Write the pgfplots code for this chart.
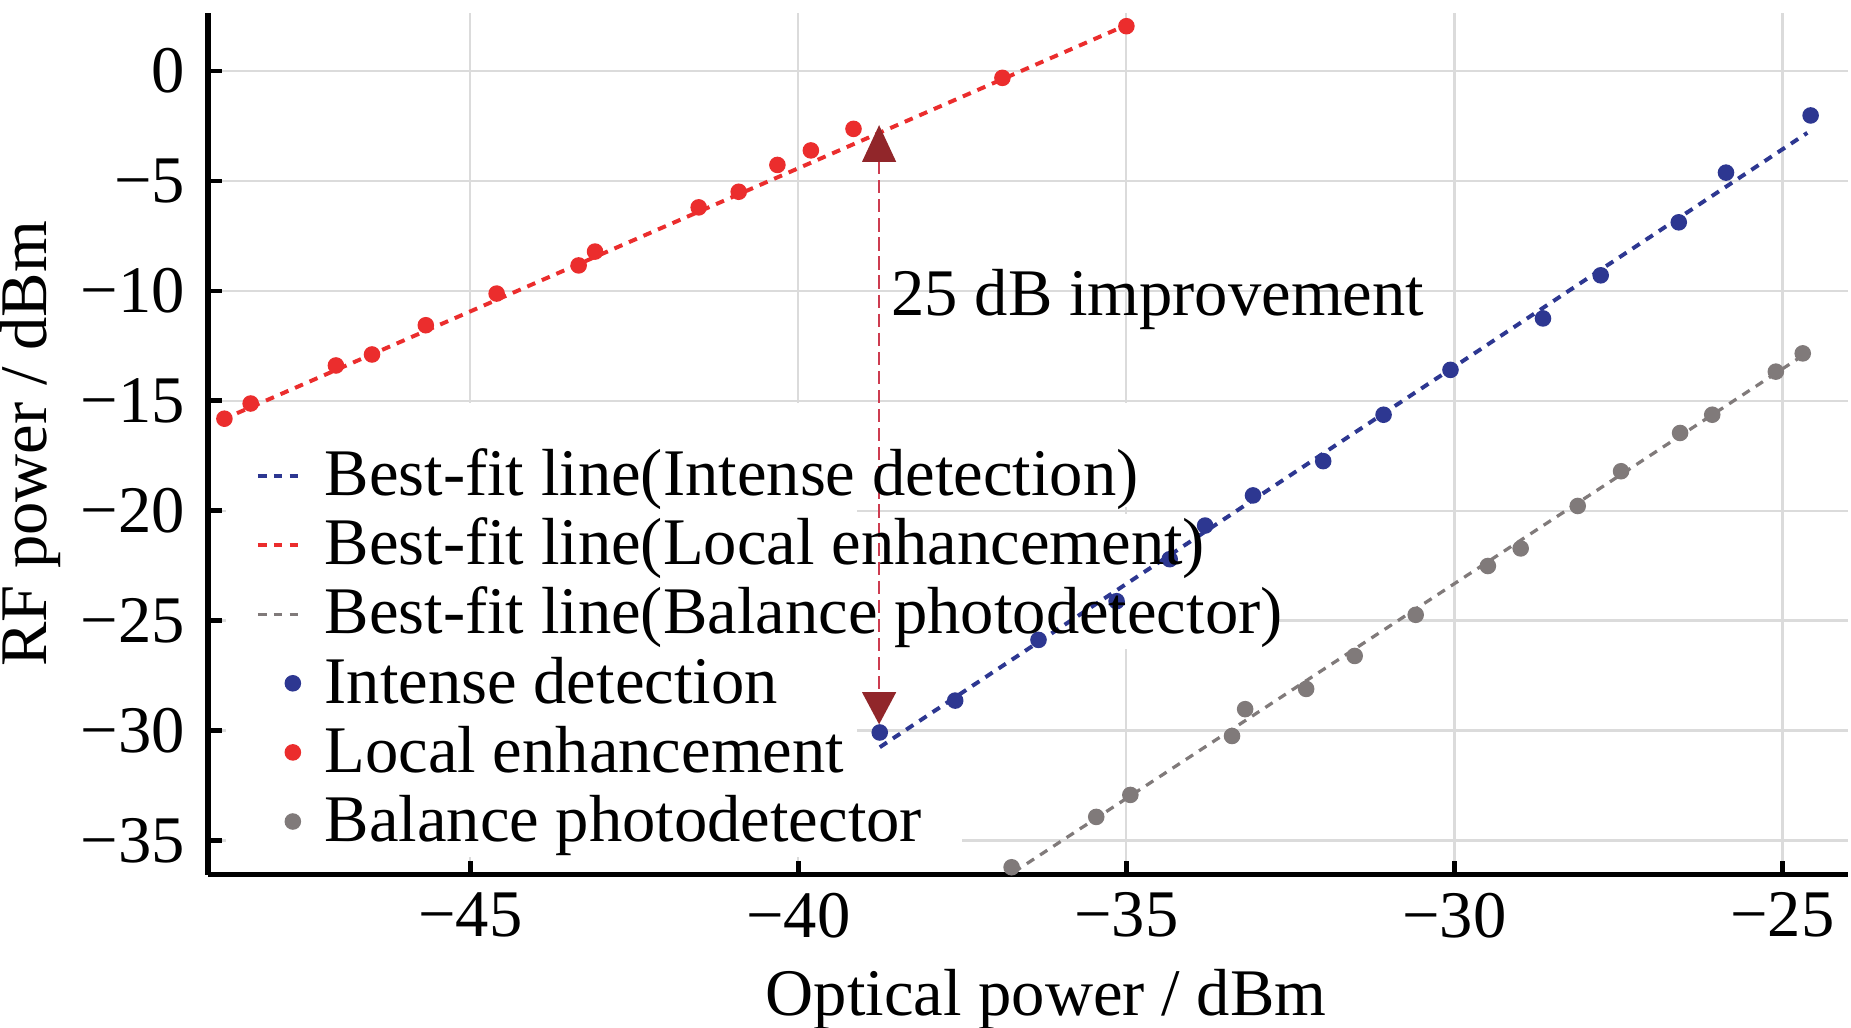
\documentclass[border=0pt]{standalone}
\usepackage{fontspec}
\setmainfont{Liberation Serif}
\usepackage{pgfplots}
\pgfplotsset{compat=1.18}
\definecolor{cred}{RGB}{235,45,45}
\definecolor{cblue}{RGB}{45,55,145}
\definecolor{cgray}{RGB}{128,122,122}
\definecolor{carrow}{RGB}{145,38,42}
\definecolor{cdash}{RGB}{205,60,80}
\pgfplotsset{
 fitleg/.style={legend image code/.code={\draw[##1] (0pt,1.6pt) -- (12pt,1.6pt);}},
 dotleg/.style={legend image code/.code={\path (0pt,0pt) (12pt,0pt); \draw[##1] plot coordinates {(9.7pt,1.6pt)};}},
}
\begin{document}
\fontsize{18.5}{22}\selectfont
\begin{tikzpicture}
\begin{axis}[
 scale only axis, width=455.56pt, height=239.44pt,
 xmin=-49, xmax=-24, ymin=-36.57, ymax=2.63,
 axis x line*=bottom, axis y line*=left,
 axis line style={line width=1.4pt, black},
 tick align=inside, major tick length=4pt,
 tick style={line width=1.2pt, black},
 xtick={-45,-40,-35,-30,-25},
 xticklabels={−45,−40,−35,−30,−25},
 ytick={0,-5,-10,-15,-20,-25,-30,-35},
 yticklabels={0,−5,−10,−15,−20,−25,−30,−35},
 xticklabel style={yshift=1.4pt},
 grid=major, grid style={color=gray!28, line width=0.6pt},
 xlabel={Optical power / dBm},
 ylabel={RF power / dBm},
 every axis x label/.style={at={(axis description cs:0.511,0)}, anchor=base, yshift=-38.9pt},
 every axis y label/.style={at={(axis description cs:-0.0982,0.5)}, anchor=base, rotate=90},
 legend cell align=left,
 legend style={at={(axis description cs:0.0288,0.4972)}, anchor=north west, draw=none, fill=none,
   inner sep=0pt, row sep=0pt, column sep=6pt,
   nodes={inner sep=0pt, text height=13.5pt, text depth=5.7pt}},
]
% white patches hiding the grid behind the legend (kept clear of the axis lines and ticks)
\fill[white] (axis cs:-48.72,-35.75) rectangle (axis cs:-39.1,-15.1);
\fill[white] (axis cs:-39.1,-15.1) rectangle (axis cs:-34.9,-19.85);
\fill[white] (axis cs:-39.1,-20.15) rectangle (axis cs:-33.9,-23.0);
\fill[white] (axis cs:-39.1,-23.0) rectangle (axis cs:-32.7,-26.3);
\fill[white] (axis cs:-39.1,-35.75) rectangle (axis cs:-37.5,-32.8);

% best-fit lines
\addplot[cblue, line width=1.1pt, dash pattern=on 2.4pt off 2pt, fitleg]
  coordinates {(-38.76,-30.76) (-24.62,-2.82)};
\addlegendentry{Best-fit line(Intense detection)}
\addplot[cred, line width=1.1pt, dash pattern=on 2.4pt off 2pt, fitleg]
  coordinates {(-48.78,-15.86) (-35.0,2.08)};
\addlegendentry{Best-fit line(Local enhancement)}
\addplot[cgray, line width=0.9pt, dash pattern=on 2.4pt off 2pt, fitleg]
  coordinates {(-36.72,-36.45) (-24.69,-12.95)};
\addlegendentry{Best-fit line(Balance photodetector)}

% measured points
\addplot[only marks, mark=*, mark size=2.1pt, cblue, dotleg]
  coordinates {
  (-38.76,-30.09) (-37.61,-28.64) (-36.34,-25.88) (-35.15,-24.12) (-34.34,-22.21)
  (-33.80,-20.68) (-33.07,-19.31) (-32.00,-17.75) (-31.08,-15.64) (-30.06,-13.60)
  (-28.65,-11.26) (-27.77,-9.30) (-26.58,-6.89) (-25.86,-4.63) (-24.57,-2.03)};
\addlegendentry{Intense detection}
\addplot[only marks, mark=*, mark size=2.1pt, cred, dotleg]
  coordinates {
  (-48.75,-15.82) (-48.35,-15.13) (-47.05,-13.40) (-46.50,-12.90) (-45.68,-11.57)
  (-44.60,-10.13) (-43.35,-8.85) (-43.10,-8.22) (-41.52,-6.21) (-40.91,-5.50)
  (-40.32,-4.28) (-39.81,-3.62) (-39.16,-2.64) (-36.89,-0.32) (-35.00,2.03)};
\addlegendentry{Local enhancement}
\addplot[only marks, mark=*, mark size=2.1pt, cgray, dotleg]
  coordinates {
  (-36.75,-36.22) (-35.46,-33.93) (-34.94,-32.93) (-33.39,-30.25) (-33.19,-29.03)
  (-32.26,-28.11) (-31.52,-26.61) (-30.59,-24.74) (-29.49,-22.52) (-28.99,-21.72)
  (-28.12,-19.79) (-27.46,-18.21) (-26.56,-16.47) (-26.07,-15.64) (-25.10,-13.68)
  (-24.69,-12.85)};
\addlegendentry{Balance photodetector}

% annotation
\draw[cdash, line width=0.5pt, dash pattern=on 3.7pt off 1.6pt]
  (axis cs:-38.77,-4.1) -- (axis cs:-38.77,-28.3);
\fill[carrow] (axis cs:-38.77,-2.47) -- ([xshift=-4.75pt]axis cs:-38.77,-4.14)
  -- ([xshift=4.75pt]axis cs:-38.77,-4.14) -- cycle;
\fill[carrow] (axis cs:-38.77,-29.72) -- ([xshift=-4.75pt]axis cs:-38.77,-28.26)
  -- ([xshift=4.75pt]axis cs:-38.77,-28.26) -- cycle;
\node[anchor=base west, inner sep=0pt] at (axis cs:-38.59,-11.11) {25 dB improvement};
\end{axis}
\pgfresetboundingbox
\path ([xshift=-57.78pt,yshift=-42.5pt]current axis.south west)
  rectangle ([xshift=0.83pt,yshift=3.61pt]current axis.north east);
\end{tikzpicture}
\end{document}
